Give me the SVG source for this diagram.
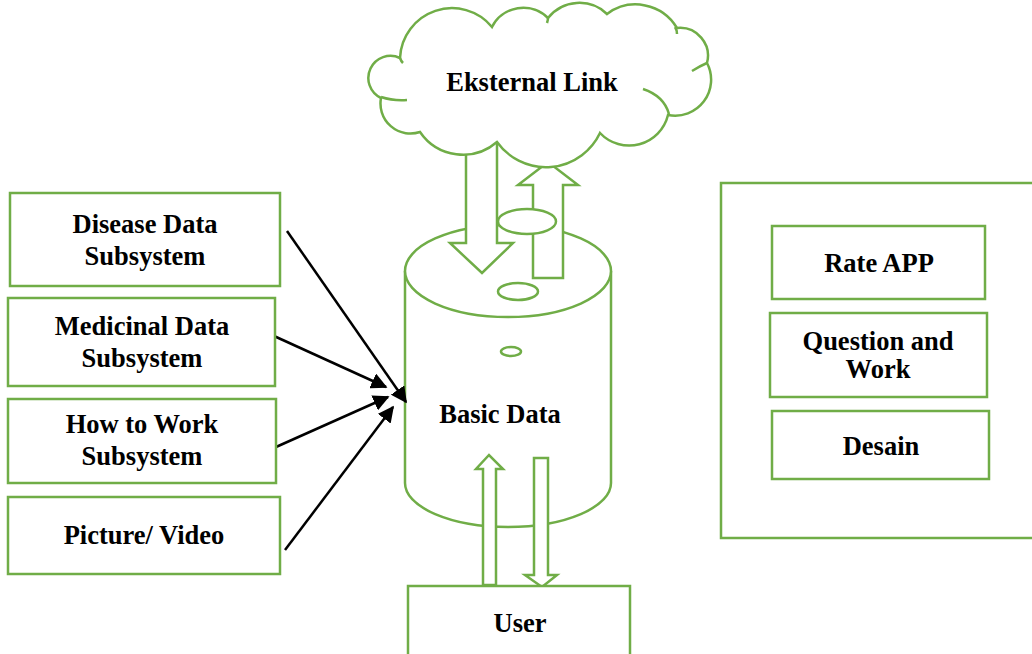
<svg xmlns="http://www.w3.org/2000/svg" width="1032" height="654" viewBox="0 0 1032 654">
<defs>
<style>
.g{fill:#fff;stroke:#70AD47;stroke-width:2.5}
.gn{fill:none;stroke:#70AD47;stroke-width:2.5}
.t{font-family:"Liberation Serif","Times New Roman",serif;font-weight:bold;font-size:26.5px;fill:#000;text-anchor:middle}
.c{stroke:#000;stroke-width:2.5;fill:none}
</style>
<marker id="ah" viewBox="0 0 10 10" refX="9" refY="5" markerWidth="6.5" markerHeight="6.5" markerUnits="strokeWidth" orient="auto">
<path d="M0,0 L10,5 L0,10 z" fill="#000"/>
</marker>
</defs>
<rect width="1032" height="654" fill="#fff"/>

<g id="basic-data">
<path class="g" d="M405,271 L405,483 A103,44 0 0 0 611,483 L611,271"/>
<ellipse class="g" cx="508" cy="271" rx="103" ry="46"/>
<text class="t" x="500" y="423">Basic Data</text>
</g>

<g id="connectors">
<path class="g" d="M466,140 L497,140 L497,243 L513,243 L482,273 L450,243 L466,243 Z"/>
<path class="g" d="M533,278 L533,185 L518,185 L548,162 L578,185 L563,185 L563,278 Z"/>
<path class="g" d="M483,585 L483,469 L476,469 L489,455 L503,469 L496,469 L496,585 Z"/>
<path class="g" d="M534,458 L548,458 L548,575 L557,575 L542,587 L525,575 L534,575 Z"/>
<line class="c" x1="287" y1="231" x2="406" y2="402" marker-end="url(#ah)"/>
<line class="c" x1="274" y1="336" x2="386" y2="387" marker-end="url(#ah)"/>
<line class="c" x1="276" y1="447" x2="388" y2="397" marker-end="url(#ah)"/>
<line class="c" x1="285" y1="550" x2="393" y2="407" marker-end="url(#ah)"/>
</g>

<g id="db-details">
<ellipse class="g" cx="527" cy="221.5" rx="29" ry="12.5"/>
<ellipse class="g" cx="518" cy="291.5" rx="20" ry="8.5"/>
<ellipse class="g" cx="511" cy="351.5" rx="10" ry="4.5"/>
</g>

<g id="eksternal-link">
<path class="g" d="M400,58 A52,52 0 0 1 492,27 A35,35 0 0 1 548,18 A40,40 0 0 1 607,14 A48,48 0 0 1 677,28 A28,28 0 0 1 707,63 A36,36 0 0 1 668,115 A40,40 0 0 1 600,133 A60,60 0 0 1 497,142 A52,52 0 0 1 420,132 A30,30 0 0 1 381,98 A22,22 0 0 1 400,58 Z"/>
<path class="gn" d="M381,97 Q393,101 407,100 M643,89 Q664,96 669,114 M707,63 Q700,66 692,71 M675,27 Q677,30 677,34 M548,18 Q548,20 547,23 M400,58 Q401,61 403,63"/>
<text class="t" x="532" y="91">Eksternal Link</text>
</g>

<g id="disease">
<rect class="g" x="10" y="193" width="270" height="93"/>
<text class="t" x="145" y="233">Disease Data</text>
<text class="t" x="145" y="265">Subsystem</text>
</g>
<g id="medicinal">
<rect class="g" x="8" y="298" width="267" height="88"/>
<text class="t" x="142" y="335">Medicinal Data</text>
<text class="t" x="142" y="367">Subsystem</text>
</g>
<g id="howto">
<rect class="g" x="8" y="399" width="268" height="84"/>
<text class="t" x="142" y="433">How to Work</text>
<text class="t" x="142" y="465">Subsystem</text>
</g>
<g id="picture">
<rect class="g" x="8" y="497" width="272" height="77"/>
<text class="t" x="144" y="544">Picture/ Video</text>
</g>

<g id="user">
<rect class="g" x="408" y="586" width="222" height="80"/>
<text class="t" x="520" y="632">User</text>
</g>

<g id="panel">
<rect class="g" x="721" y="183" width="320" height="355"/>
</g>
<g id="rate">
<rect class="g" x="772" y="226" width="213" height="73"/>
<text class="t" x="879" y="272">Rate APP</text>
</g>
<g id="question">
<rect class="g" x="770" y="313" width="217" height="84"/>
<text class="t" x="878" y="350">Question and</text>
<text class="t" x="878" y="378">Work</text>
</g>
<g id="desain">
<rect class="g" x="772" y="411" width="217" height="68"/>
<text class="t" x="881" y="455">Desain</text>
</g>
</svg>
